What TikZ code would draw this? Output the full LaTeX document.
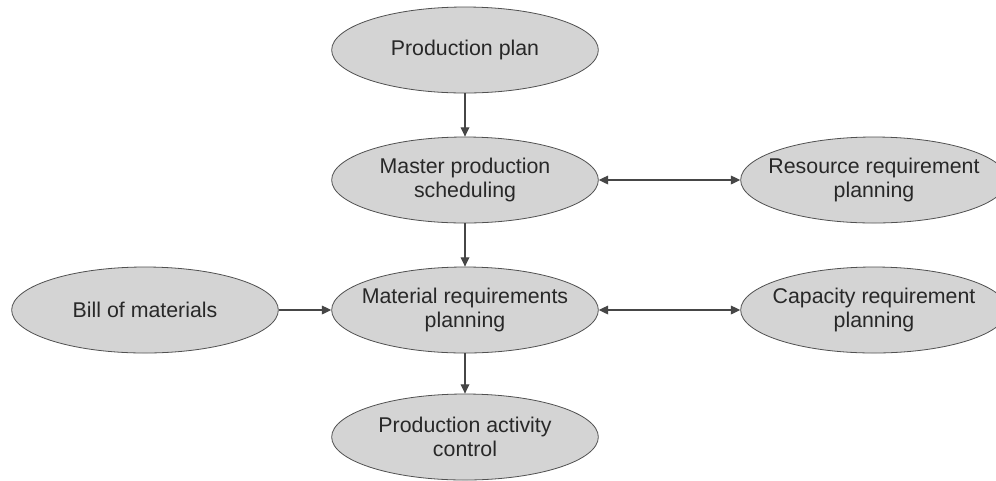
\documentclass[tikz,border=0pt]{standalone}
\usepackage{fontspec}
\setmainfont{Liberation Sans}
\usetikzlibrary{shapes.geometric,arrows.meta}
\definecolor{boxfill}{RGB}{212,212,212}
\definecolor{boxline}{RGB}{80,80,80}
\definecolor{wire}{RGB}{70,70,70}
\definecolor{ink}{RGB}{40,40,40}
\begin{document}
\begin{tikzpicture}[x=0.75pt,y=-0.75pt,
  stage/.style={ellipse, draw=boxline, line width=0.6pt, fill=boxfill,
    minimum width=200pt, minimum height=64.5pt, inner sep=0pt},
  txt/.style={align=center, text=ink, font=\fontsize{16}{17.5}\selectfont},
  flow/.style={draw=wire, line width=0.9pt, -{Triangle[length=7pt,width=6.5pt]}},
  both/.style={draw=wire, line width=0.9pt, {Triangle[length=7pt,width=6.5pt]}-{Triangle[length=7pt,width=6.5pt]}}]
  \clip (0,0) rectangle (996,480);
  \fill[white] (0,0) rectangle (996,480);

  % planning stages
  \node[stage, label={[txt]center:Production plan}] (pp) at (465,50) {};
  \node[stage, label={[txt]center:Master production\\scheduling}] (mps) at (465,180) {};
  \node[stage, label={[txt]center:Resource requirement\\planning}] (rrp) at (874,180) {};
  \node[stage, label={[txt]center:Bill of materials}] (bom) at (145,310) {};
  \node[stage, label={[txt]center:Material requirements\\planning}] (mrp) at (465,310) {};
  \node[stage, label={[txt]center:Capacity requirement\\planning}] (crp) at (874,310) {};
  \node[stage, label={[txt]center:Production activity\\control}] (pac) at (465,437) {};

  % connectors
  \draw[flow] (pp) -- (mps);
  \draw[flow] (mps) -- (mrp);
  \draw[flow] (mrp) -- (pac);
  \draw[flow] (bom) -- (mrp);
  \draw[both] (mps) -- (rrp);
  \draw[both] (mrp) -- (crp);
\end{tikzpicture}
\end{document}
